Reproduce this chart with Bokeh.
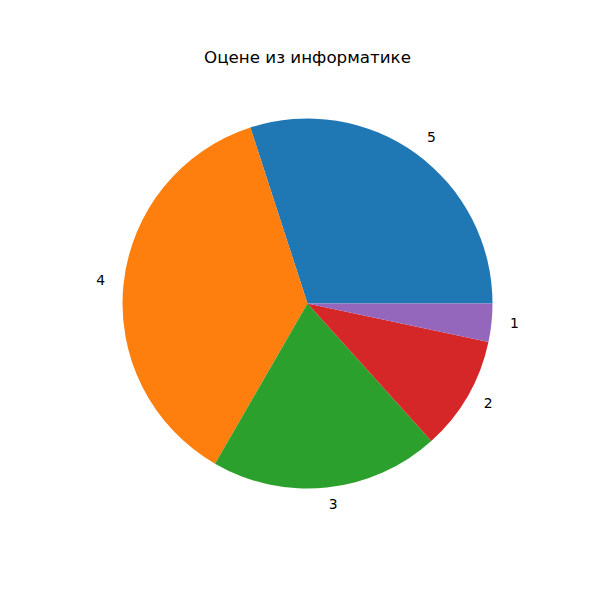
import numpy as np
from bokeh.plotting import figure
from bokeh.models import ColumnDataSource
from bokeh.core.properties import value
from bokeh.embed import file_html
from bokeh.resources import INLINE

title_text = "Оцене из информатике"
grades = ["5", "4", "3", "2", "1"]
counts = [9, 11, 6, 3, 1]
colors = ["#1f77b4", "#ff7f0e", "#2ca02c", "#d62728", "#9467bd"]

vals = np.array(counts, dtype=float)
frac = vals / vals.sum()
ends = np.cumsum(frac) * 2 * np.pi
starts = np.concatenate([[0.0], ends[:-1]])
mids = (starts + ends) / 2

src = ColumnDataSource(dict(start=starts, end=ends, color=colors))

lx = 1.1 * np.cos(mids)
ly = 1.1 * np.sin(mids)
align = ["left" if x > 0 else "right" for x in lx]
lab = ColumnDataSource(dict(x=lx, y=ly, text=grades, align=align))

R = 185.0
p = figure(width=584, height=584, output_backend="svg", toolbar_location=None,
           x_range=(-307 / R, (584 - 307) / R), y_range=((303 - 584) / R, 303 / R),
           min_border=0, outline_line_color=None, background_fill_color="white")
p.axis.visible = False
p.grid.visible = False

p.wedge(x=0, y=0, radius=1.0, start_angle="start", end_angle="end",
        fill_color="color", line_color=None, source=src)

p.text(x="x", y="y", text="text", text_align="align", text_baseline="middle",
       text_font=value("DejaVu Sans"), text_font_size="13.9px", text_color="black",
       y_offset=-2, source=lab)

p.text(x=[0.0], y=[(303 - 58) / R], text=[title_text], text_align="center",
       text_baseline="middle", text_font=value("DejaVu Sans"),
       text_font_size="16.7px", text_color="black", y_offset=-2)

open("out.html", "w").write(file_html(p, INLINE))
